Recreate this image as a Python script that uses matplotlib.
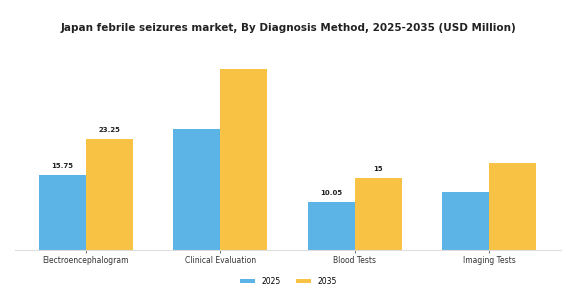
import matplotlib.pyplot as plt
import numpy as np

categories = ["Electroencephalogram", "Clinical Evaluation", "Blood Tests", "Imaging Tests"]
values_2025 = [15.75, 25.3, 10.05, 12.0]
values_2035 = [23.25, 37.7, 15.0, 18.1]
labels_2025 = ["15.75", None, "10.05", None]
labels_2035 = ["23.25", None, "15", None]

blue = "#5BB3E6"
yellow = "#F8C245"

fig = plt.figure(figsize=(5.77, 3.06), dpi=100)
ax = fig.add_axes([0.0255, 0.183, 0.946, 0.65])

x = np.arange(len(categories))
w = 0.35
b1 = ax.bar(x - w / 2, values_2025, w, color=blue, label="2025")
b2 = ax.bar(x + w / 2, values_2035, w, color=yellow, label="2035")

# only some bars carry a value label
for bars, labels in ((b1, labels_2025), (b2, labels_2035)):
    for bar, lab in zip(bars, labels):
        if lab is None:
            continue
        ax.text(bar.get_x() + bar.get_width() / 2, bar.get_height() + 1.2, lab,
                ha="center", va="bottom", fontsize=5, fontweight="bold", color="#222222")

ax.set_xlim(-0.53, 3.53)
ax.set_ylim(0, 41.5)
ax.set_xticks(x)
ax.set_xticklabels(categories, fontsize=5.5, color="#333333")
ax.tick_params(axis="x", length=2, width=0.6, pad=2, color="#555555")
ax.set_yticks([])
for side in ("top", "right", "left"):
    ax.spines[side].set_visible(False)
ax.spines["bottom"].set_color("#DDDDDD")
ax.spines["bottom"].set_linewidth(0.8)

fig.text(0.5, 0.908, "Japan febrile seizures market, By Diagnosis Method, 2025-2035 (USD Million)",
         ha="center", va="center", fontsize=7.5, fontweight="bold", color="#222222")

fig.legend(handles=[b1, b2], labels=["2025", "2035"], loc="center", bbox_to_anchor=(0.5, 0.08),
           ncol=2, frameon=False, fontsize=5.5, handlelength=2.0, handleheight=0.45,
           columnspacing=2.0, handletextpad=0.8)

fig.savefig("out.png", dpi=100)
